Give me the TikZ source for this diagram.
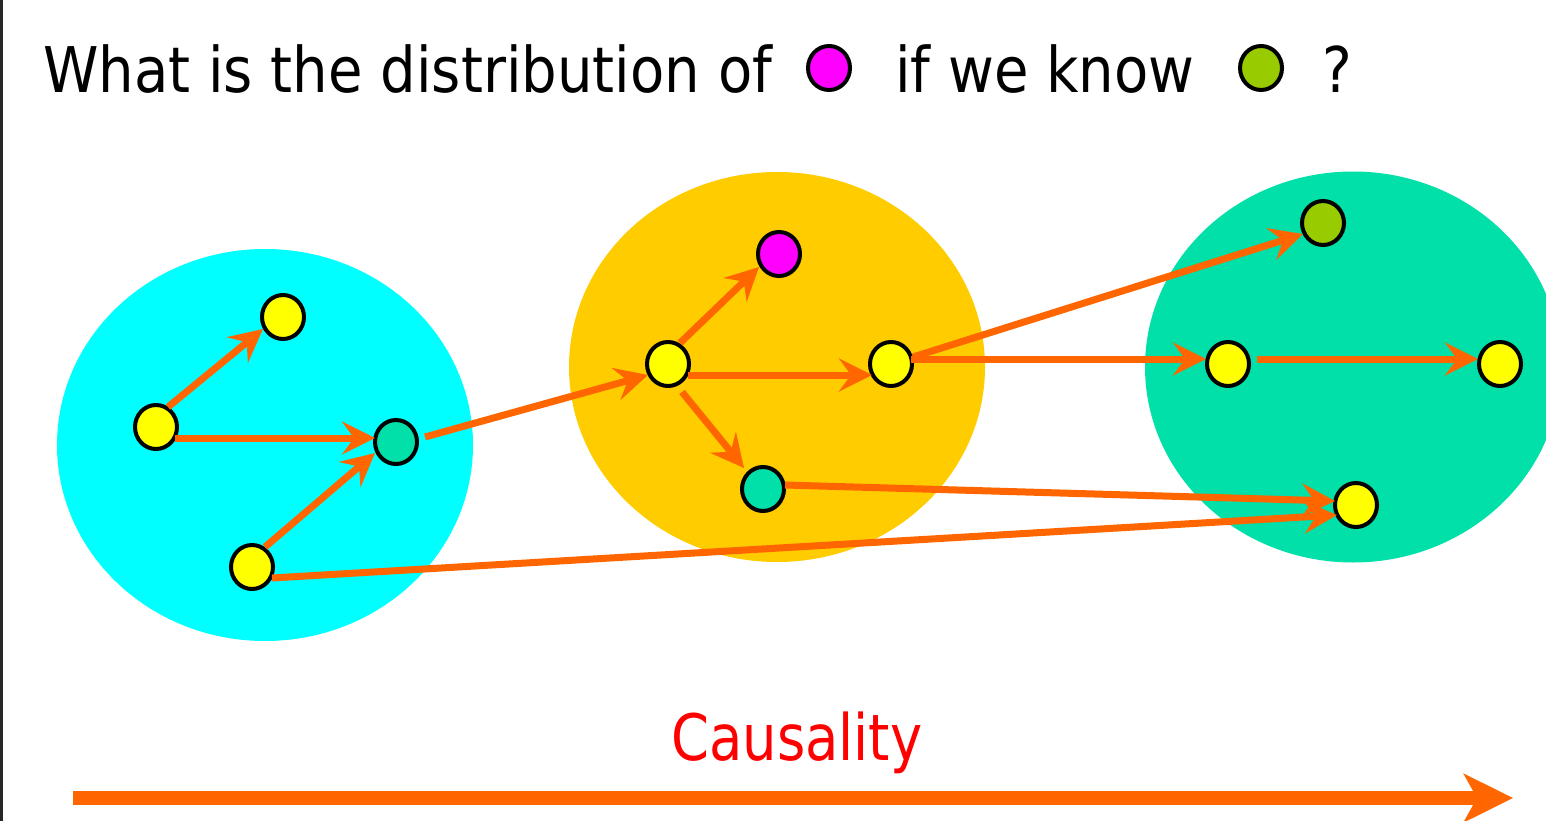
\documentclass[tikz,border=0pt]{standalone}
\usepackage{fontspec}
\setmainfont{DejaVu Sans}
\newfontfamily\titlefam[FakeStretch=0.89]{DejaVu Sans}
\newfontfamily\causfam[FakeStretch=0.85]{DejaVu Sans}
\usetikzlibrary{arrows.meta,shapes.geometric,calc}
\definecolor{orng}{HTML}{FF6600}
\definecolor{cyanblob}{HTML}{00FFFF}
\definecolor{goldblob}{HTML}{FFCC00}
\definecolor{tealblob}{HTML}{00E0A8}
\definecolor{ylw}{HTML}{FFFF00}
\definecolor{mgt}{HTML}{FF00FF}
\definecolor{olv}{HTML}{99CC00}
\definecolor{redtxt}{HTML}{FF0000}
\tikzset{
  blob/.style={ellipse, inner sep=0pt, draw=none},
  var/.style={ellipse, inner sep=0pt, minimum width=42pt, minimum height=44pt, draw=black, line width=4pt},
  edge/.style={draw=orng, line width=7pt, -{Stealth[length=33pt 0 0,width=33pt 0 0,inset=12pt 0 0]}},
  bigarrow/.style={draw=orng, line width=14pt, -{Stealth[length=49pt 0 0,width=48pt 0 0,inset=13pt 0 0]}},
}
\begin{document}
\begin{tikzpicture}[x=1pt,y=-1pt]
\useasboundingbox (0,0) rectangle (1546,821);
\fill[white] (0,0) rectangle (1546,821);
\fill[black!85] (0,0) rectangle (3,821);

% title
\node[anchor=base west, inner sep=0pt, font=\titlefam\fontsize{63}{70}\selectfont] (t1) at (43,93) {What is the distribution of};
\node[var, fill=mgt] (lm) at (829,68) {};
\node[anchor=base west, inner sep=0pt, font=\titlefam\fontsize{63}{70}\selectfont] (t2) at (895,93) {if we know};
\node[var, fill=olv] (lg) at (1261,68) {};
\node[anchor=base west, inner sep=0pt, font=\titlefam\fontsize{63}{70}\selectfont] (t3) at (1322,93) {?};

% blobs
\node[blob, fill=cyanblob, minimum width=416pt, minimum height=392pt] (E1) at (265,445) {};
\node[blob, fill=goldblob, minimum width=416pt, minimum height=390pt] (E2) at (777,367) {};
\node[blob, fill=tealblob, minimum width=416pt, minimum height=391pt] (E3) at (1353,367) {};

% variables
\node[var, fill=ylw] (A1) at (156,427) {};
\node[var, fill=ylw] (A2) at (283,317) {};
\node[var, fill=tealblob] (A3) at (396,442) {};
\node[var, fill=ylw] (A4) at (252,567) {};

\node[var, fill=ylw] (B1) at (668,364) {};
\node[var, fill=mgt] (B2) at (779,254) {};
\node[var, fill=ylw] (B3) at (891,364) {};
\node[var, fill=tealblob] (B4) at (763,489) {};

\node[var, fill=olv] (C1) at (1323,223) {};
\node[var, fill=ylw] (C2) at (1228,364) {};
\node[var, fill=ylw] (C3) at (1500,364) {};
\node[var, fill=ylw] (C4) at (1356,505) {};

% edges
\draw[edge] ($(A1)+(12,-20)$) -- ($(A2)+(-20,12)$);
\draw[edge] ($(A1)+(19,11)$) -- ($(A3)+(-21,-4)$);
\draw[edge] ($(A4)+(13,-20)$) -- ($(A3)+(-21,11)$);
\draw[edge] ($(A3)+(29,-5)$) -- ($(B1)+(-20,11)$);
\draw[edge] ($(A4)+(20,11)$) -- ($(C4)+(-19,10)$);
\draw[edge] ($(B1)+(12,-21)$) -- ($(B2)+(-20,13)$);
\draw[edge] ($(B1)+(20,11)$) -- ($(B3)+(-19,11)$);
\draw[edge] ($(B1)+(14,28)$) -- ($(B4)+(-19,-21)$);
\draw[edge] ($(B4)+(22,-4)$) -- ($(C4)+(-21,-4)$);
\draw[edge] ($(B3)+(22,-7)$) -- ($(C1)+(-20,11)$);
\draw[edge] ($(B3)+(20,-5)$) -- ($(C2)+(-22,-5)$);
\draw[edge] ($(C2)+(29,-5)$) -- ($(C3)+(-22,-5)$);

% causality
\node[anchor=base west, inner sep=0pt, text=redtxt, font=\causfam\fontsize{64}{70}\selectfont] (caus) at (671,760) {Causality};
\coordinate (cs) at (73,798);
\coordinate (ce) at (1513,798);
\draw[bigarrow] (cs) -- (ce);
\end{tikzpicture}
\end{document}
